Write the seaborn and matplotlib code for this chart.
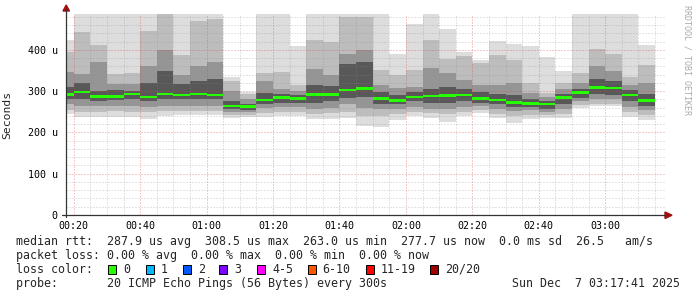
import numpy as np
import pandas as pd
import matplotlib
matplotlib.use("Agg")
import matplotlib.pyplot as plt
import seaborn as sns
from matplotlib.lines import Line2D
from matplotlib.patches import Polygon, Rectangle

# ---------------- data (microseconds) ----------------
# end time of each 5-minute interval
times = ["00:20", "00:25", "00:30", "00:35", "00:40", "00:45", "00:50", "00:55",
         "01:00", "01:05", "01:10", "01:15", "01:20", "01:25", "01:30", "01:35",
         "01:40", "01:45", "01:50", "01:55", "02:00", "02:05", "02:10", "02:15",
         "02:20", "02:25", "02:30", "02:35", "02:40", "02:45", "02:50", "02:55",
         "03:00", "03:05", "03:10", "03:15"]
median = [292, 298, 287, 287, 293, 286, 293, 291, 293, 291, 264, 263, 279, 284, 282, 292,
          292, 303, 307, 283, 278, 286, 288, 289, 291, 282, 279, 272, 270, 269, 285, 296,
          308.5, 308, 291, 277.7]
# outermost smoke band (min / max ping)
lo1 = [244, 237, 238, 238, 237, 233, 240, 242, 242, 242, 236, 238, 238, 239, 239, 232,
       232, 236, 216, 214, 229, 240, 234, 226, 240, 248, 234, 224, 232, 234, 234, 260,
       263, 263, 238, 230]
hi1 = [424, 500, 500, 500, 500, 500, 520, 500, 500, 500, 335, 299, 500, 500, 410, 500,
       500, 500, 500, 500, 390, 463, 500, 450, 396, 376, 422, 415, 410, 382, 349, 500,
       500, 500, 500, 412]
# second band
lo2 = [255, 250, 250, 252, 250, 250, 252, 252, 252, 252, 243, 243, 248, 250, 250, 245,
       248, 250, 240, 240, 245, 250, 246, 245, 250, 255, 245, 240, 242, 242, 245, 266,
       270, 270, 250, 242]
hi2 = [395, 444, 412, 342, 345, 446, 500, 388, 470, 475, 325, 292, 345, 347, 315, 425,
       420, 480, 480, 351, 338, 351, 425, 378, 386, 368, 388, 376, 320, 296, 320, 344,
       401, 390, 334, 363]
# third band
lo3 = [268, 265, 263, 265, 265, 262, 265, 265, 265, 265, 250, 250, 260, 262, 262, 258,
       260, 268, 260, 258, 258, 262, 258, 258, 262, 265, 258, 252, 255, 250, 258, 275,
       282, 280, 262, 255]
hi3 = [346, 342, 370, 318, 318, 360, 400, 340, 360, 370, 300, 282, 325, 306, 300, 354,
       340, 390, 400, 315, 308, 310, 357, 343, 327, 315, 315, 320, 296, 285, 305, 320,
       360, 350, 315, 320]
# inner band
lo4 = [280, 282, 275, 278, 280, 276, 280, 280, 280, 280, 256, 255, 270, 272, 272, 272,
       275, 283, 285, 270, 268, 275, 272, 272, 275, 272, 268, 262, 262, 258, 270, 283,
       292, 290, 275, 265]
hi4 = [310, 321, 300, 302, 300, 320, 350, 318, 325, 330, 275, 270, 295, 293, 290, 315,
       313, 365, 370, 298, 290, 298, 306, 310, 305, 297, 292, 290, 280, 276, 293, 305,
       330, 325, 303, 293]

loss_labels = ["0", "1", "2", "3", "4-5", "6-10", "11-19", "20/20"]
loss_colors = ["#26ff00", "#00b8ff", "#0059ff", "#7e00ff", "#ff00ff", "#ff5500", "#ff0000", "#a10000"]
stat_rtt = "median rtt:  287.9 us avg  308.5 us max  263.0 us min  277.7 us now  0.0 ms sd  26.5   am/s"
stat_loss = "packet loss: 0.00 % avg  0.00 % max  0.00 % min  0.00 % now"
probe_txt = "probe:       20 ICMP Echo Pings (56 Bytes) every 300s"
date_txt = "Sun Dec  7 03:17:41 2025"

# ---------------- figure ----------------
sns.set_theme(style="white")
plt.rcParams["font.family"] = ["DejaVu Sans Mono", "DejaVu Sans"]

W, H = 697, 297
fig = plt.figure(figsize=(W / 100, H / 100), dpi=100)
fig.patch.set_facecolor("white")


def fx(x):
    return x / W


def fy(y):
    return 1 - y / H


ax = fig.add_axes([fx(66), fy(215), 600 / W, 201 / H])
ax.set_facecolor("white")

end_min = np.array([int(t[:2]) * 60 + int(t[3:]) for t in times], dtype=float)
x0 = 17 + 41 / 60
x1 = x0 + 180
starts = np.maximum(end_min - 5, x0)
widths = end_min - starts

df = pd.DataFrame({"start": starts, "width": widths, "median": median,
                   "lo1": lo1, "hi1": hi1, "lo2": lo2, "hi2": hi2,
                   "lo3": lo3, "hi3": hi3, "lo4": lo4, "hi4": hi4})

band_cols = ["#dddddd", "#bdbdbd", "#959595", "#585858"]
for i, c in enumerate(band_cols, start=1):
    ax.bar(df["start"], df[f"hi{i}"] - df[f"lo{i}"], bottom=df[f"lo{i}"],
           width=df["width"], align="edge", color=c, linewidth=0, zorder=1)

# grid on top of smoke
dot = (0, (1.0, 2.0))
for v in range(20, 487, 20):
    if v % 100:
        ax.axhline(v, color=(0.55, 0.55, 0.55, 0.45), lw=0.72, ls=dot, zorder=2)
for v in range(100, 487, 100):
    ax.axhline(v, color=(0.85, 0.25, 0.25, 0.55), lw=0.72, ls=dot, zorder=2)
for m in range(20, 200, 5):
    if m % 20:
        ax.axvline(m, color=(0.55, 0.55, 0.55, 0.45), lw=0.72, ls=dot, zorder=2)
for m in range(20, 200, 20):
    ax.axvline(m, color=(0.85, 0.25, 0.25, 0.55), lw=0.72, ls=dot, zorder=2)

# median band
ax.bar(df["start"], 6.5, bottom=df["median"] - 3.25, width=df["width"], align="edge",
       color=loss_colors[0], linewidth=0, zorder=4)

ax.set_xlim(x0, x1 + 0.6)
ax.set_ylim(0, 487)
for s in ax.spines.values():
    s.set_visible(False)

ax.set_yticks([0, 100, 200, 300, 400])
ax.set_yticklabels(["0", "100 u", "200 u", "300 u", "400 u"])
ax.set_yticks(list(range(20, 487, 20)), minor=True)
xt = list(range(20, 200, 20))
ax.set_xticks(xt)
ax.set_xticklabels([f"{m // 60:02d}:{m % 60:02d}" for m in xt])
ax.set_xticks(list(range(20, 200, 5)), minor=True)
ax.tick_params(axis="both", which="major", labelsize=7.2, colors="#333333",
               labelcolor="black", direction="out", length=2.5, width=0.7)
ax.tick_params(axis="both", which="minor", direction="out", length=1.5, width=0.6, colors="#777777")
ax.tick_params(axis="y", pad=3.5)
ax.tick_params(axis="x", pad=1.5)
ax.set_ylabel("Seconds", fontsize=8.2)
ax.yaxis.set_label_coords(-(66 - 12) / 600, 0.5)

# axes lines with arrows
fig.add_artist(Line2D([fx(66), fx(66)], [fy(217), fy(10)], color="#333333", lw=0.9))
fig.add_artist(Line2D([fx(62), fx(665)], [fy(215), fy(215)], color="#333333", lw=0.9))
fig.add_artist(Polygon([[fx(63), fy(11)], [fx(69.5), fy(11)], [fx(66.2), fy(5)]],
                       closed=True, color="#a01010", transform=fig.transFigure))
fig.add_artist(Polygon([[fx(665), fy(212)], [fx(665), fy(218.5)], [fx(672), fy(215.2)]],
                       closed=True, color="#a01010", transform=fig.transFigure))

# side credit
fig.text(fx(687), fy(5), "RRDTOOL / TOBI OETIKER", rotation=270, ha="center", va="top",
         fontsize=6.0, color="#aaaaaa")

# legend / statistics rows
fs = 8.4
fig.text(fx(16), fy(241), stat_rtt, fontsize=fs, va="center", ha="left")
fig.text(fx(16), fy(255.7), stat_loss, fontsize=fs, va="center", ha="left")
fig.text(fx(16), fy(269.5), "loss color:", fontsize=fs, va="center", ha="left")
box_x = [108, 146, 183, 219, 257, 307.5, 365.5, 430]
for bx, lab, col in zip(box_x, loss_labels, loss_colors):
    fig.add_artist(Rectangle((fx(bx), fy(274)), 8 / W, 9 / H, transform=fig.transFigure,
                             facecolor=col, edgecolor="black", lw=0.7))
    fig.text(fx(bx + 15), fy(269.5), lab, fontsize=fs, va="center", ha="left")
fig.text(fx(16), fy(283.5), probe_txt, fontsize=fs, va="center", ha="left")
fig.text(fx(680), fy(283.5), date_txt, fontsize=fs, va="center", ha="right")

fig.savefig("out.png", dpi=100, facecolor="white")
